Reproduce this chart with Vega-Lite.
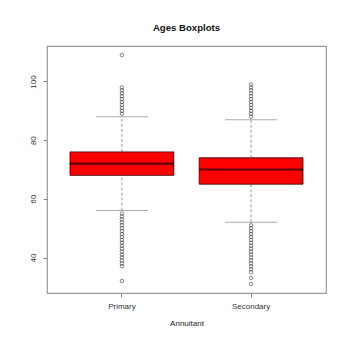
{
  "$schema": "https://vega.github.io/schema/vega-lite/v6.json",
  "width": 279,
  "height": 247,
  "autosize": {"type": "none"},
  "padding": {"left": 47, "top": 46, "right": 22, "bottom": 47},
  "background": "white",
  "config": {
    "font": "Liberation Sans",
    "view": {"stroke": "#999999", "strokeWidth": 1.2},
    "axis": {
      "domain": false,
      "grid": false,
      "tickColor": "#888888",
      "tickSize": 4,
      "labelColor": "#333333",
      "labelFontSize": 8,
      "labelFont": "Liberation Sans",
      "titleFont": "Liberation Sans",
      "titleFontWeight": "normal",
      "titleFontSize": 8,
      "titleColor": "#222222"
    }
  },
  "title": {
    "text": "Ages Boxplots",
    "fontSize": 9.6,
    "fontWeight": "bold",
    "font": "Liberation Sans",
    "color": "#111111",
    "anchor": "middle",
    "offset": 13
  },
  "datasets": {
    "boxes": [
      {"annuitant": "Primary", "lower": 56, "q1": 68, "median": 72, "q3": 76, "upper": 88},
      {"annuitant": "Secondary", "lower": 52, "q1": 65, "median": 70, "q3": 74, "upper": 87}
    ],
    "outliers": [
      {"annuitant": "Primary", "age": 109},
      {"annuitant": "Primary", "age": 98},
      {"annuitant": "Primary", "age": 97},
      {"annuitant": "Primary", "age": 96},
      {"annuitant": "Primary", "age": 95},
      {"annuitant": "Primary", "age": 94},
      {"annuitant": "Primary", "age": 93},
      {"annuitant": "Primary", "age": 92},
      {"annuitant": "Primary", "age": 91},
      {"annuitant": "Primary", "age": 90},
      {"annuitant": "Primary", "age": 89},
      {"annuitant": "Primary", "age": 55},
      {"annuitant": "Primary", "age": 54},
      {"annuitant": "Primary", "age": 53},
      {"annuitant": "Primary", "age": 52},
      {"annuitant": "Primary", "age": 51},
      {"annuitant": "Primary", "age": 50},
      {"annuitant": "Primary", "age": 49},
      {"annuitant": "Primary", "age": 48},
      {"annuitant": "Primary", "age": 47},
      {"annuitant": "Primary", "age": 46},
      {"annuitant": "Primary", "age": 45},
      {"annuitant": "Primary", "age": 44},
      {"annuitant": "Primary", "age": 43},
      {"annuitant": "Primary", "age": 42},
      {"annuitant": "Primary", "age": 41},
      {"annuitant": "Primary", "age": 40},
      {"annuitant": "Primary", "age": 39},
      {"annuitant": "Primary", "age": 38},
      {"annuitant": "Primary", "age": 37},
      {"annuitant": "Primary", "age": 32},
      {"annuitant": "Secondary", "age": 99},
      {"annuitant": "Secondary", "age": 98},
      {"annuitant": "Secondary", "age": 97},
      {"annuitant": "Secondary", "age": 96},
      {"annuitant": "Secondary", "age": 95},
      {"annuitant": "Secondary", "age": 94},
      {"annuitant": "Secondary", "age": 93},
      {"annuitant": "Secondary", "age": 92},
      {"annuitant": "Secondary", "age": 91},
      {"annuitant": "Secondary", "age": 90},
      {"annuitant": "Secondary", "age": 89},
      {"annuitant": "Secondary", "age": 88},
      {"annuitant": "Secondary", "age": 51},
      {"annuitant": "Secondary", "age": 50},
      {"annuitant": "Secondary", "age": 49},
      {"annuitant": "Secondary", "age": 48},
      {"annuitant": "Secondary", "age": 47},
      {"annuitant": "Secondary", "age": 46},
      {"annuitant": "Secondary", "age": 45},
      {"annuitant": "Secondary", "age": 44},
      {"annuitant": "Secondary", "age": 43},
      {"annuitant": "Secondary", "age": 42},
      {"annuitant": "Secondary", "age": 41},
      {"annuitant": "Secondary", "age": 40},
      {"annuitant": "Secondary", "age": 39},
      {"annuitant": "Secondary", "age": 38},
      {"annuitant": "Secondary", "age": 37},
      {"annuitant": "Secondary", "age": 36},
      {"annuitant": "Secondary", "age": 35},
      {"annuitant": "Secondary", "age": 33},
      {"annuitant": "Secondary", "age": 31}
    ]
  },
  "encoding": {
    "x": {
      "field": "annuitant",
      "type": "nominal",
      "sort": ["Primary", "Secondary"],
      "scale": {"type": "band", "paddingInner": 0.196, "paddingOuter": 0.178},
      "axis": {"title": "Annuitant", "labelAngle": 0, "labelPadding": 5, "titlePadding": 9}
    }
  },
  "layer": [
    {
      "data": {"name": "boxes"},
      "mark": {"type": "rule", "strokeDash": [3, 2], "color": "#999999", "strokeWidth": 1},
      "encoding": {
        "y": {"field": "q3", "type": "quantitative"},
        "y2": {"field": "upper"}
      }
    },
    {
      "data": {"name": "boxes"},
      "mark": {"type": "rule", "strokeDash": [3, 2], "color": "#999999", "strokeWidth": 1},
      "encoding": {
        "y": {"field": "lower", "type": "quantitative"},
        "y2": {"field": "q1"}
      }
    },
    {
      "data": {"name": "boxes"},
      "mark": {"type": "tick", "size": 52, "thickness": 1, "color": "#888888", "orient": "horizontal"},
      "encoding": {"y": {"field": "upper", "type": "quantitative"}}
    },
    {
      "data": {"name": "boxes"},
      "mark": {"type": "tick", "size": 52, "thickness": 1, "color": "#888888", "orient": "horizontal"},
      "encoding": {"y": {"field": "lower", "type": "quantitative"}}
    },
    {
      "data": {"name": "boxes"},
      "mark": {"type": "bar", "color": "#ff0000", "stroke": "#330000", "strokeWidth": 0.8},
      "encoding": {
        "y": {"field": "q1", "type": "quantitative"},
        "y2": {"field": "q3"}
      }
    },
    {
      "data": {"name": "boxes"},
      "mark": {"type": "tick", "size": 104, "thickness": 2.2, "color": "#1a0000", "orient": "horizontal"},
      "encoding": {"y": {"field": "median", "type": "quantitative"}}
    },
    {
      "data": {"name": "outliers"},
      "mark": {"type": "point", "shape": "circle", "filled": false, "size": 12, "stroke": "#222222", "strokeWidth": 0.8},
      "encoding": {
        "y": {
          "field": "age",
          "type": "quantitative",
          "scale": {"domain": [27.9, 112.1], "nice": false, "zero": false},
          "axis": {
            "title": null,
            "values": [40, 60, 80, 100],
            "labelAngle": -90,
            "labelAlign": "center",
            "labelBaseline": "bottom",
            "labelPadding": 6
          }
        }
      }
    }
  ]
}
